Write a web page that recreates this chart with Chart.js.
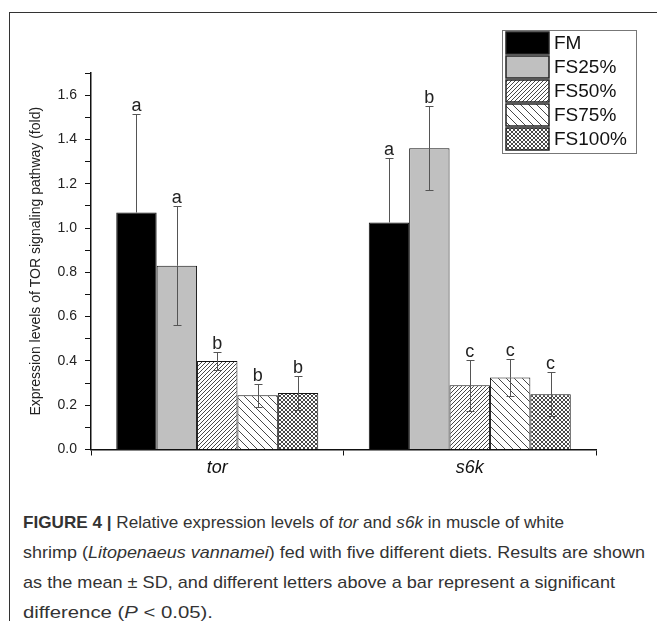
<!DOCTYPE html>
<html>
<head>
<meta charset="utf-8">
<script src="https://cdn.jsdelivr.net/npm/chart.js@4"></script>
<style>
  html, body { margin: 0; padding: 0; background: #fff; }
  #page { position: relative; width: 657px; height: 621px; overflow: hidden; }
  #frameTop { position: absolute; left: 9px; top: 12px; width: 648px; height: 0; border-top: 1px solid #333; }
  #frameLeft { position: absolute; left: 9px; top: 12px; width: 0; height: 609px; border-left: 1px solid #333; }
  #wrap { position: absolute; left: 0; top: 0; width: 657px; height: 500px; }
  #caption { position: absolute; left: 23px; top: 508px; font-family: "Liberation Sans", Arial, sans-serif;
             font-size: 17px; line-height: 30px; color: #333; }
  #caption div { white-space: nowrap; transform-origin: left center; width: max-content; }
</style>
</head>
<body>
<div id="page">
  <div id="frameTop"></div>
  <div id="frameLeft"></div>
  <div id="wrap"><canvas id="chart"></canvas></div>
  <div id="caption">
    <div><b>FIGURE 4 |</b> Relative expression levels of <i>tor</i> and <i>s6k</i> in muscle of white</div>
    <div>shrimp (<i>Litopenaeus vannamei</i>) fed with five different diets. Results are shown</div>
    <div>as the mean ± SD, and different letters above a bar represent a significant</div>
    <div>difference (<i>P</i> &lt; 0.05).</div>
  </div>
</div>
<script>
// values (mean, SD and significance letters per diet)
var categories = ["tor", "s6k"];
var seriesNames = ["FM", "FS25%", "FS50%", "FS75%", "FS100%"];

var fmMean    = [1.07, 1.025];
var fs25Mean  = [0.83, 1.36];
var fs50Mean  = [0.40, 0.29];
var fs75Mean  = [0.245, 0.325];
var fs100Mean = [0.255, 0.25];

var fmSd    = [0.445, 0.293];
var fs25Sd  = [0.27, 0.19];
var fs50Sd  = [0.04, 0.114];
var fs75Sd  = [0.053, 0.085];
var fs100Sd = [0.078, 0.10];

var fmLetters    = ["a", "a"];
var fs25Letters  = ["a", "b"];
var fs50Letters  = ["b", "c"];
var fs75Letters  = ["b", "c"];
var fs100Letters = ["b", "c"];

var yMax = 1.7;
var yStep = 0.1;

var ctx = document.getElementById("chart").getContext("2d");

// small tiles for the hatch fills
function makePattern(size, draw) {
    var tile = document.createElement("canvas");
    tile.width = size;
    tile.height = size;
    var g = tile.getContext("2d");
    g.fillStyle = "#fff";
    g.fillRect(0, 0, size, size);
    g.strokeStyle = "#333";
    g.lineWidth = 0.9;
    draw(g, size);
    return ctx.createPattern(tile, "repeat");
}

function slash(g, s) {
    g.beginPath();
    g.moveTo(-1, s + 1); g.lineTo(s + 1, -1);
    g.moveTo(-1, 1); g.lineTo(1, -1);
    g.moveTo(s - 1, s + 1); g.lineTo(s + 1, s - 1);
    g.stroke();
}
function backslash(g, s) {
    g.beginPath();
    g.moveTo(-1, -1); g.lineTo(s + 1, s + 1);
    g.moveTo(s - 1, -1); g.lineTo(s + 1, 1);
    g.moveTo(-1, s - 1); g.lineTo(1, s + 1);
    g.stroke();
}

var fills = [
    "#000",
    "#c0c0c0",
    makePattern(4, slash),
    makePattern(8, backslash),
    makePattern(4, function (g, s) { slash(g, s); backslash(g, s); })
];

var means = [fmMean, fs25Mean, fs50Mean, fs75Mean, fs100Mean];
var sds = [fmSd, fs25Sd, fs50Sd, fs75Sd, fs100Sd];
var letters = [fmLetters, fs25Letters, fs50Letters, fs75Letters, fs100Letters];

var datasets = [];
for (var i = 0; i < seriesNames.length; i++) {
    datasets.push({
        label: seriesNames[i],
        data: means[i],
        backgroundColor: fills[i],
        borderColor: "#111",
        borderWidth: 1,
        categoryPercentage: 0.8,
        barPercentage: 1.0
    });
}

// error bars + letters above each bar
var errorBars = {
    id: "errorBars",
    afterDatasetsDraw: function (chart) {
        var c = chart.ctx;
        var y = chart.scales.y;
        c.save();
        for (var d = 0; d < chart.data.datasets.length; d++) {
            var meta = chart.getDatasetMeta(d);
            meta.data.forEach(function (bar, k) {
                var m = means[d][k], s = sds[d][k];
                var top = Math.round(y.getPixelForValue(m + s)) + 0.5;
                var bot = Math.round(y.getPixelForValue(m - s)) + 0.5;
                var x = Math.round(bar.x) + 0.5;
                c.strokeStyle = "#555";
                c.lineWidth = 1;
                c.beginPath();
                c.moveTo(x, top); c.lineTo(x, bar.y);
                c.moveTo(x - 4, top); c.lineTo(x + 4, top);
                // the black bar hides the lower half
                if (d !== 0) {
                    c.moveTo(x, bar.y); c.lineTo(x, bot);
                    c.moveTo(x - 4, bot); c.lineTo(x + 4, bot);
                }
                c.stroke();
                c.fillStyle = "#222";
                c.font = "18px 'Liberation Sans', Arial, sans-serif";
                c.textAlign = "center";
                c.textBaseline = "alphabetic";
                c.fillText(letters[d][k], bar.x, top - 4);
            });
        }
        c.restore();
    }
};

// boxed legend in the top right corner
var boxLegend = {
    id: "boxLegend",
    afterDraw: function (chart) {
        var c = chart.ctx;
        c.save();
        c.strokeStyle = "#777";
        c.lineWidth = 1;
        c.strokeRect(502.5, 30.5, 134, 123);
        chart.data.datasets.forEach(function (ds, i) {
            var cy = 43 + i * 24;
            c.fillStyle = ds.backgroundColor;
            c.fillRect(506, cy - 11, 43, 22);
            c.strokeStyle = "#222";
            c.lineWidth = 1.5;
            c.strokeRect(506, cy - 11, 43, 22);
            c.fillStyle = "#111";
            c.font = "19px 'Liberation Sans', Arial, sans-serif";
            c.textAlign = "left";
            c.textBaseline = "middle";
            c.fillText(ds.label, 554, cy + 1);
        });
        c.restore();
    }
};

var myChart = new Chart(ctx, {
    type: "bar",
    data: { labels: categories, datasets: datasets },
    options: {
        responsive: true,
        maintainAspectRatio: false,
        animation: false,
        layout: { padding: { top: 73, right: 61, left: 0, bottom: 0 } },
        plugins: { legend: { display: false }, tooltip: { enabled: false } },
        scales: {
            x: {
                grid: { drawOnChartArea: false, tickLength: 6, color: "#111", offset: true },
                border: { color: "#111", width: 1.5 },
                ticks: {
                    padding: 2,
                    color: "#111",
                    font: { family: "'Liberation Sans', Arial, sans-serif", size: 18, style: "italic" }
                },
                afterFit: function (scale) { scale.height = 50.5; }
            },
            y: {
                min: 0,
                max: yMax,
                grid: { drawOnChartArea: false, tickLength: 6, color: "#111" },
                border: { color: "#111", width: 1.5 },
                ticks: {
                    stepSize: yStep,
                    padding: 8,
                    color: "#222",
                    font: { family: "'Liberation Sans', Arial, sans-serif", size: 14 },
                    callback: function (v) {
                        return Math.round(v * 10) % 2 === 0 ? v.toFixed(1) : "";
                    }
                },
                title: {
                    display: true,
                    text: "Expression levels of TOR signaling pathway (fold)",
                    color: "#222",
                    font: { family: "'Liberation Sans', Arial, sans-serif", size: 14 },
                    padding: { top: 28, bottom: 0 }
                },
                afterFit: function (scale) { scale.width = 91; }
            }
        }
    },
    plugins: [errorBars, boxLegend]
});

// squeeze each caption line to the width it has in the printed figure
var capWidths = [541, 622, 592, 190];
var capLines = document.querySelectorAll("#caption div");
capLines.forEach(function (el, i) {
    var w = el.getBoundingClientRect().width;
    el.style.transform = "scaleX(" + (capWidths[i] / w) + ")";
});
</script>
</body>
</html>
